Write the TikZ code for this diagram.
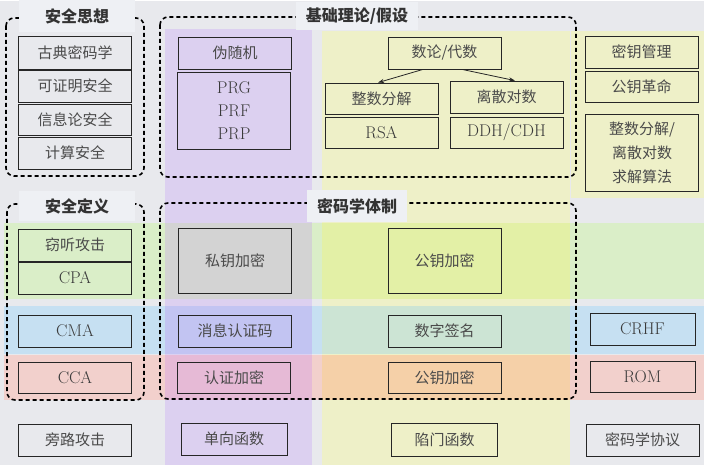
\documentclass[tikz,border=0pt]{standalone}
\usepackage{fontspec}
\newfontfamily\cjk{Noto Sans CJK SC}
\usetikzlibrary{arrows.meta}
\definecolor{bgc}{HTML}{E8E9ED}
\definecolor{titlebg}{HTML}{EEF0F4}
\definecolor{ink}{HTML}{4A4A4A}
\definecolor{latinink}{HTML}{3A3A3A}
\definecolor{purplecol}{HTML}{DCD0F0}
\definecolor{yellowcol}{HTML}{EEF0C8}
\definecolor{greenrow}{HTML}{DAEEC8}
\definecolor{bluerow}{HTML}{C6E0F2}
\definecolor{redrow}{HTML}{F2D0CC}
\definecolor{greycell}{HTML}{D3D3D3}
\definecolor{limecell}{HTML}{E3F0A6}
\definecolor{violetcell}{HTML}{C2C4F2}
\definecolor{tealcell}{HTML}{CCE4D4}
\definecolor{pinkcell}{HTML}{E6BAD6}
\definecolor{orangecell}{HTML}{F5D0A8}
\begin{document}
\begin{tikzpicture}[x=1pt, y=-1pt,
    box/.style={draw=black!85, line width=0.8pt, text=ink, inner sep=0pt,
      minimum width=113pt, minimum height=32pt, align=center,
      font=\fontsize{15}{21}\selectfont\cjk},
    latin/.style={box, text=latinink, font=\fontsize{17}{21}\selectfont},
    frame/.style={dashed, line width=1.6pt, dash pattern=on 4pt off 3pt,
      rounded corners=8pt},
    title/.style={fill=titlebg, text=black!80, inner xsep=10pt, inner ysep=6pt,
      font=\fontsize{16}{18}\selectfont\cjk\bfseries},
    link/.style={-{Stealth[length=6pt, width=4pt]}, gray!30!black, line width=0.8pt}]

    % background and colour bands
    \fill[bgc] (0, 0) rectangle (704, 464);
    \fill[greenrow] (4, 222) rectangle (704, 298);
    \fill[bluerow] (4, 305) rectangle (704, 353);
    \fill[redrow] (4, 354) rectangle (704, 399);
    \fill[purplecol] (165, 28) rectangle (312, 464);
    \fill[greycell] (165, 222) rectangle (312, 298);
    \fill[violetcell] (165, 305) rectangle (312, 353);
    \fill[pinkcell] (165, 354) rectangle (312, 399);
    \fill[yellowcol] (322, 30) rectangle (570, 464);
    \fill[yellowcol] (571, 30) rectangle (704, 197);
    \fill[limecell] (322, 222) rectangle (570, 298);
    \fill[tealcell] (322, 305) rectangle (570, 353);
    \fill[orangecell] (322, 354) rectangle (570, 399);

    % dashed frames
    \draw[frame] (6, 17) rectangle (144, 175);
    \draw[frame] (160, 16) rectangle (576, 176);
    \draw[frame] (7, 203) rectangle (144, 399);
    \draw[frame] (160, 202) rectangle (576, 398);
    \node[title, minimum width=116pt, minimum height=32pt] (sixiang) at (77, 15) {安全思想};
    \node[title] (jichu) at (357, 15) {基础理论/假设};
    \node[title, minimum width=116pt, minimum height=30pt] (dingyi) at (77, 205) {安全定义};
    \node[title, minimum height=32pt] (tizhi) at (357, 205) {密码学体制};

    % left column
    \node[box, minimum height=33pt] (gudian) at (75, 51.5) {古典密码学};
    \node[box] (kezheng) at (75, 85) {可证明安全};
    \node[box, minimum height=31pt] (xinxilun) at (75, 118.5) {信息论安全};
    \node[box] (jisuan) at (75, 152) {计算安全};
    \node[box] (qieting) at (75, 244) {窃听攻击};
    \node[latin] (cpa) at (75, 277) {CPA};
    \node[latin] (cma) at (75, 330) {CMA};
    \node[latin, minimum height=31pt] (cca) at (75, 376.5) {CCA};
    \node[box] (panglu) at (75, 439) {旁路攻击};

    % purple column
    \node[box] (weisuiji) at (235, 52) {伪随机};
    \node[latin, minimum height=77pt, font=\fontsize{17}{23}\selectfont] (prx) at (234, 109.5) {PRG\\PRF\\PRP};
    \node[box, minimum height=65pt] (siyao) at (235, 259.5) {私钥加密};
    \node[box] (xiaoxi) at (235, 330) {消息认证码};
    \node[box, minimum height=31pt] (renzheng) at (234, 376.5) {认证加密};
    \node[box, minimum width=106pt] (danxiang) at (234, 438) {单向函数};

    % yellow column
    \node[box] (shulun) at (444.5, 52) {数论/代数};
    \node[box, minimum height=31pt] (zhengshu) at (381.5, 97.5) {整数分解};
    \node[latin, minimum height=31pt] (rsa) at (381.5, 131.5) {RSA};
    \node[box] (lisan) at (506.5, 96) {离散对数};
    \node[latin, minimum height=31pt] (ddh) at (506.5, 131.5) {DDH/CDH};
    \node[box, minimum height=65pt] (gongyao) at (444.5, 259.5) {公钥加密};
    \node[box] (qianming) at (444.5, 330) {数字签名};
    \node[box, minimum height=31pt] (gongyaob) at (444.5, 376.5) {公钥加密};
    \node[box, minimum width=106pt, minimum height=33pt] (xianmen) at (444.5, 438.5) {陷门函数};
    \draw[link] ([xshift=-21.5pt]shulun.south) -- ([xshift=-3.5pt]zhengshu.north);
    \draw[link] ([xshift=17.5pt]shulun.south) -- ([xshift=8.5pt]lisan.north);

    % right column
    \node[box] (guanli) at (641.5, 51) {密钥管理};
    \node[box, minimum height=31pt] (geming) at (641.5, 85.5) {公钥革命};
    \node[box, minimum height=77pt, font=\fontsize{15}{24}\selectfont\cjk] (qiujie) at (642, 151.5) {整数分解/\\离散对数\\求解算法};
    \node[latin, minimum width=105pt] (crhf) at (642.5, 328) {CRHF};
    \node[latin, minimum width=105pt, minimum height=31pt] (rom) at (642.5, 375.5) {ROM};
    \node[box] (xieyi) at (642.5, 439) {密码学协议};
  \end{tikzpicture}
\end{document}
